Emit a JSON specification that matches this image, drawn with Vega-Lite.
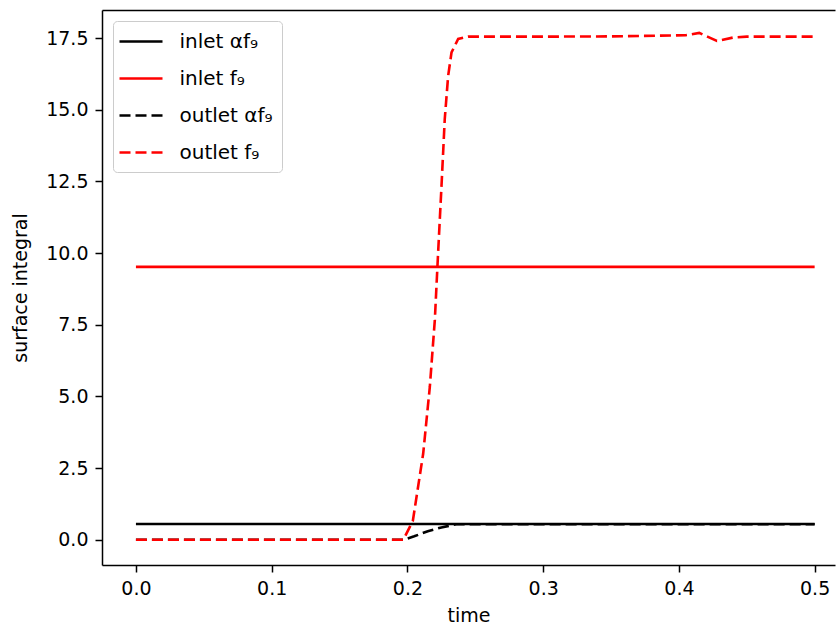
{
  "$schema": "https://vega.github.io/schema/vega-lite/v6.json",
  "autosize": {"type": "none"},
  "padding": {"left": 102, "top": 10, "right": 2, "bottom": 61},
  "width": 733,
  "height": 555,
  "background": "white",
  "config": {
    "view": {"stroke": null},
    "font": "DejaVu Sans",
    "axis": {
      "grid": false,
      "domainColor": "#000000",
      "domainWidth": 1.5,
      "tickColor": "#000000",
      "tickWidth": 1.5,
      "tickSize": 7,
      "labelPadding": 7,
      "labelFont": "DejaVu Sans",
      "labelFontSize": 19,
      "labelColor": "#000000",
      "titleFont": "DejaVu Sans",
      "titleFontSize": 19,
      "titleFontWeight": "normal",
      "titleColor": "#000000"
    },
    "legend": {
      "orient": "top-left",
      "offset": 11,
      "fillColor": "white",
      "strokeColor": "#cccccc",
      "cornerRadius": 4,
      "padding": 9,
      "rowPadding": 15,
      "symbolType": "M-2.15,0H2.15",
      "symbolSize": 400,
      "symbolOffset": 7.5,
      "symbolStrokeWidth": 2.6,
      "labelFont": "DejaVu Sans",
      "labelFontSize": 20,
      "labelColor": "#000000",
      "labelOffset": 27
    }
  },
  "data": {
    "values": [
      {"series": "inlet αf₉", "t": 0.0, "v": 0.55},
      {"series": "inlet αf₉", "t": 0.5, "v": 0.55},
      {"series": "inlet f₉", "t": 0.0, "v": 9.52},
      {"series": "inlet f₉", "t": 0.5, "v": 9.52},
      {"series": "outlet αf₉", "t": 0.0, "v": 0.0},
      {"series": "outlet αf₉", "t": 0.197, "v": 0.0},
      {"series": "outlet αf₉", "t": 0.205, "v": 0.12},
      {"series": "outlet αf₉", "t": 0.215, "v": 0.3},
      {"series": "outlet αf₉", "t": 0.225, "v": 0.43},
      {"series": "outlet αf₉", "t": 0.236, "v": 0.54},
      {"series": "outlet αf₉", "t": 0.3, "v": 0.54},
      {"series": "outlet αf₉", "t": 0.4, "v": 0.54},
      {"series": "outlet αf₉", "t": 0.5, "v": 0.54},
      {"series": "outlet f₉", "t": 0.0, "v": 0.0},
      {"series": "outlet f₉", "t": 0.197, "v": 0.0},
      {"series": "outlet f₉", "t": 0.204, "v": 0.66},
      {"series": "outlet f₉", "t": 0.2116, "v": 3.0},
      {"series": "outlet f₉", "t": 0.2165, "v": 5.33},
      {"series": "outlet f₉", "t": 0.2202, "v": 7.67},
      {"series": "outlet f₉", "t": 0.2226, "v": 10.0},
      {"series": "outlet f₉", "t": 0.2251, "v": 12.33},
      {"series": "outlet f₉", "t": 0.2275, "v": 14.67},
      {"series": "outlet f₉", "t": 0.23, "v": 16.18},
      {"series": "outlet f₉", "t": 0.2325, "v": 17.0},
      {"series": "outlet f₉", "t": 0.2374, "v": 17.47},
      {"series": "outlet f₉", "t": 0.2447, "v": 17.55},
      {"series": "outlet f₉", "t": 0.3, "v": 17.55},
      {"series": "outlet f₉", "t": 0.35, "v": 17.56},
      {"series": "outlet f₉", "t": 0.405, "v": 17.6},
      {"series": "outlet f₉", "t": 0.415, "v": 17.68},
      {"series": "outlet f₉", "t": 0.421, "v": 17.55},
      {"series": "outlet f₉", "t": 0.428, "v": 17.4},
      {"series": "outlet f₉", "t": 0.44, "v": 17.52},
      {"series": "outlet f₉", "t": 0.45, "v": 17.55},
      {"series": "outlet f₉", "t": 0.5, "v": 17.55}
    ]
  },
  "layer": [
    {
      "encoding": {
        "x": {
          "field": "t", "type": "quantitative",
          "scale": {"domain": [-0.025, 0.515], "nice": false, "zero": false},
          "axis": {"title": "time", "values": [0, 0.1, 0.2, 0.3, 0.4, 0.5], "format": ".1f", "titlePadding": 8}
        },
        "y": {
          "field": "v", "type": "quantitative",
          "scale": {"domain": [-0.88, 18.48], "nice": false, "zero": false},
          "axis": {"title": "surface integral", "values": [0, 2.5, 5, 7.5, 10, 12.5, 15, 17.5], "format": ".1f", "titlePadding": 15}
        },
        "color": {
          "field": "series", "type": "nominal",
          "scale": {"domain": ["inlet αf₉", "inlet f₉", "outlet αf₉", "outlet f₉"], "range": ["#000000", "#ff0000", "#000000", "#ff0000"]},
          "legend": {"title": null}
        },
        "strokeDash": {
          "field": "series", "type": "nominal",
          "scale": {"domain": ["inlet αf₉", "inlet f₉", "outlet αf₉", "outlet f₉"], "range": [[1, 0], [1, 0], [11, 5], [11, 5]]},
          "legend": {"title": null}
        }
      },
      "layer": [
        {
          "transform": [{"filter": "datum.series !== 'outlet f₉'"}],
          "mark": {"type": "line", "strokeWidth": 2.6, "clip": true}
        },
        {
          "transform": [{"filter": "datum.series === 'outlet f₉'"}],
          "mark": {"type": "line", "strokeWidth": 2.6, "clip": true}
        }
      ]
    },
    {
      "mark": {"type": "line", "opacity": 0},
      "encoding": {
        "x": {"field": "t", "type": "quantitative", "scale": {"domain": [-0.025, 0.515], "nice": false, "zero": false}, "axis": {"orient": "top", "labels": false, "ticks": false, "title": null, "domain": true}},
        "y": {"field": "v", "type": "quantitative", "scale": {"domain": [-0.88, 18.48], "nice": false, "zero": false}, "axis": null},
        "detail": {"field": "series", "type": "nominal"}
      }
    }
  ],
  "resolve": {"axis": {"x": "independent", "y": "independent"}}
}
